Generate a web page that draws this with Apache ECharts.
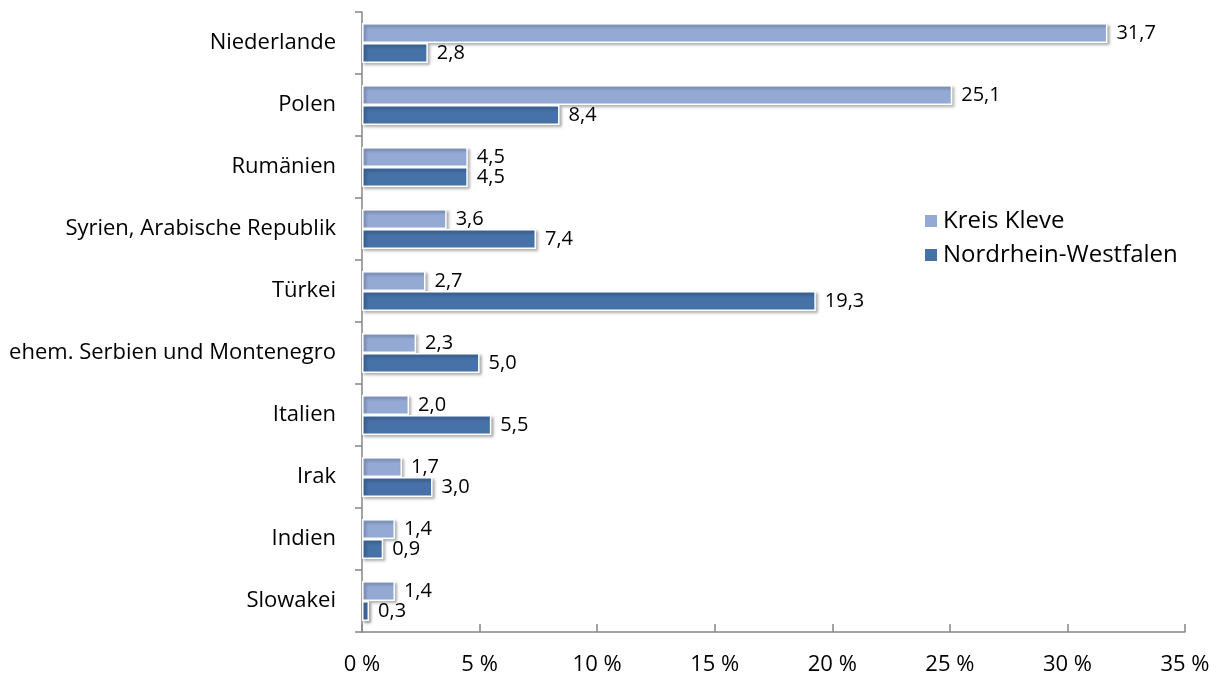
<!DOCTYPE html>
<html>
<head>
<meta charset="utf-8">
<script src="https://cdn.jsdelivr.net/npm/echarts@6/dist/echarts.min.js"></script>
<style>
  html, body { margin: 0; padding: 0; background: #fff; }
  #chart { width: 1220px; height: 681px; }
</style>
</head>
<body>
<div id="chart"></div>
<script>
// Länder (von oben nach unten)
var laender = ['Niederlande', 'Polen', 'Rumänien', 'Syrien, Arabische Republik', 'Türkei',
  'ehem. Serbien und Montenegro', 'Italien', 'Irak', 'Indien', 'Slowakei'];
var kreisKleve = [31.7, 25.1, 4.5, 3.6, 2.7, 2.3, 2.0, 1.7, 1.4, 1.4];
var nrw = [2.8, 8.4, 4.5, 7.4, 19.3, 5.0, 5.5, 3.0, 0.9, 0.3];
var xTicks = [0, 5, 10, 15, 20, 25, 30, 35];

var fontFam = '"Open Sans", "Noto Sans", sans-serif';

function komma(v){
  return v.toFixed(1).replace('.', ',');
}

var myChart = echarts.init(document.getElementById('chart'));

var barStyle = function(color){
  return {
    color: color,
    borderColor: '#fff',
    borderWidth: 1.5,
    shadowBlur: 3,
    shadowOffsetX: 2,
    shadowOffsetY: 2,
    shadowColor: 'rgba(0,0,0,0.35)'
  };
};

var lbl = {
  show: true,
  position: 'right',
  distance: 9,
  color: '#000',
  fontFamily: fontFam,
  fontSize: 20,
  formatter: function(p){ return komma(p.value); }
};

var option = {
  animation: false,
  textStyle: { fontFamily: fontFam },
  grid: { left: 362, right: 35, top: 12, bottom: 49 },
  legend: {
    orient: 'vertical',
    left: 918,
    top: 204,
    itemWidth: 14,
    itemHeight: 14,
    itemGap: 10,
    icon: 'rect',
    textStyle: { fontSize: 24, color: '#000', fontFamily: fontFam },
    data: ['Kreis Kleve', 'Nordrhein-Westfalen']
  },
  xAxis: {
    type: 'value',
    min: xTicks[0],
    max: xTicks[xTicks.length - 1],
    interval: 5,
    splitLine: { show: false },
    axisLine: { show: true, lineStyle: { color: '#868686', width: 1.5 } },
    axisTick: { show: true, inside: true, length: 8, lineStyle: { color: '#868686', width: 1.5 } },
    axisLabel: {
      margin: 22,
      color: '#000',
      fontSize: 22,
      fontFamily: fontFam,
      formatter: function(v){ return v + ' %'; }
    }
  },
  yAxis: {
    type: 'category',
    inverse: true,
    data: laender,
    axisLine: { show: true, lineStyle: { color: '#868686', width: 1.5 } },
    axisTick: { show: true, length: 7, lineStyle: { color: '#868686', width: 1.5 } },
    axisLabel: { margin: 26, color: '#000', fontSize: 22, fontFamily: fontFam }
  },
  series: [
    {
      name: 'Kreis Kleve',
      type: 'bar',
      data: kreisKleve,
      barWidth: 20,
      barGap: '0%',
      itemStyle: barStyle('#94aad4'),
      label: lbl
    },
    {
      name: 'Nordrhein-Westfalen',
      type: 'bar',
      data: nrw,
      barWidth: 20,
      barGap: '0%',
      itemStyle: barStyle('#4672a8'),
      label: lbl
    }
  ]
};
myChart.setOption(option);
</script>
</body>
</html>
